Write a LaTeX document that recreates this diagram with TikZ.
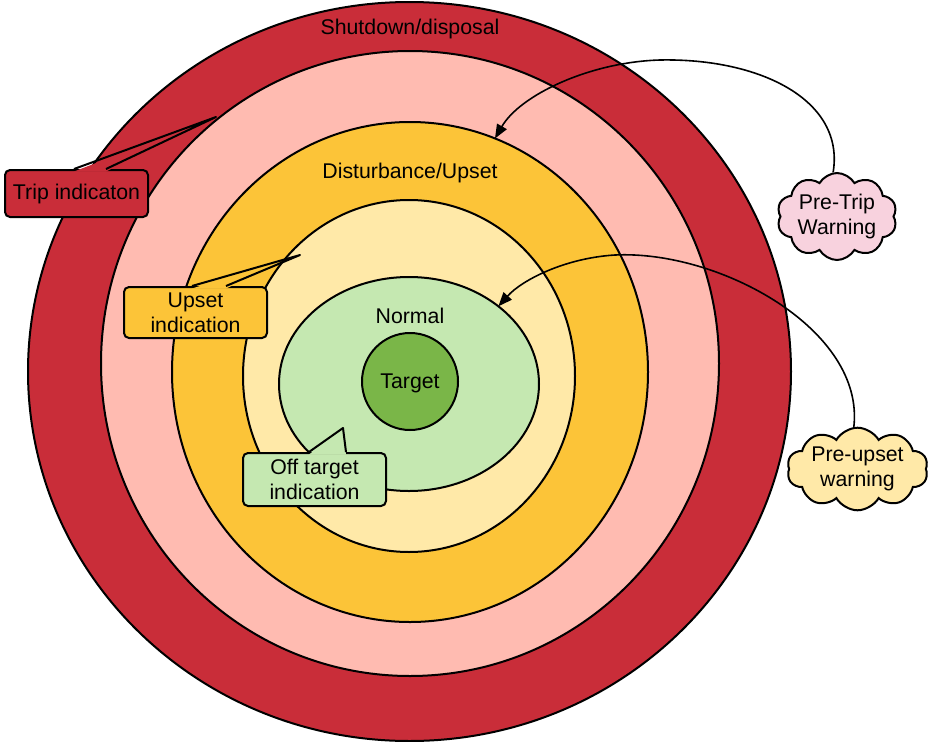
\documentclass[tikz,border=0pt]{standalone}
\usepackage{fontspec}
\setmainfont{Liberation Sans}
\usetikzlibrary{shapes.geometric,shapes.symbols,arrows.meta,calc}

\definecolor{shutred}{HTML}{C92D39}
\definecolor{trippink}{HTML}{FFBBB1}
\definecolor{upsetorange}{HTML}{FCC438}
\definecolor{paleyellow}{HTML}{FFE9A8}
\definecolor{palegreen}{HTML}{C5E8B1}
\definecolor{targetgreen}{HTML}{7AB648}
\definecolor{cloudpink}{HTML}{F8D2DE}

\begin{document}
\begin{tikzpicture}[x=1pt,y=-1pt,
  txt/.style={font=\fontsize{21.3}{25}\selectfont, text=black},
  ring/.style={ellipse, draw=black, line width=2pt, inner sep=0pt, outer sep=0pt},
  lbl/.style={txt, inner sep=0pt},
  tagbox/.style={txt, draw=black, line width=2pt, rounded corners=5pt, align=center,
    minimum width=143pt, inner sep=0pt},
  puff/.style={txt, cloud, cloud puffs=10, cloud puff arc=120, cloud ignores aspect,
    draw=black, line width=2pt, align=center, inner sep=0pt},
  pointer/.style={draw=black, line width=2pt, line join=round},
  link/.style={draw=black, line width=1.6pt, -{Triangle[length=14pt,width=11pt]}}
]
\useasboundingbox (0,0) rectangle (930,742);

% concentric zones, outermost first
\node[ring, fill=shutred, minimum width=763pt, minimum height=739pt] (shutdown) at (409.5,371.5) {};
\node[ring, fill=trippink, minimum width=618pt, minimum height=625pt] (tripzone) at (410,363.5) {};
\node[ring, fill=upsetorange, minimum width=476pt, minimum height=500pt] (upset) at (410,372) {};
\node[ring, fill=paleyellow, minimum width=332pt, minimum height=352pt] (preupset) at (409,376) {};
\node[ring, fill=palegreen, minimum width=260pt, minimum height=214pt] (normal) at (409,384) {};
\node[ring, fill=targetgreen, minimum width=96pt, minimum height=97pt] (target) at (410,381.5) {};

% zone labels
\node[lbl] (lshut) at (410,29) {Shutdown/disposal};
\node[lbl] (lupset) at (410,173) {Disturbance/Upset};
\node[lbl] (lnormal) at (410,316) {Normal};
\node[lbl] (ltarget) at (410,383) {Target};

% indication callouts
\node[tagbox, fill=shutred, minimum height=47pt] (trip) at (76.5,193.5) {Trip indicaton};
\coordinate (triptip) at (216,117);
\fill[shutred] ($(trip.north west)+(70,2.5)$) -- (triptip) -- ($(trip.north west)+(102,2.5)$) -- cycle;
\draw[pointer] ($(trip.north west)+(70,0)$) -- (triptip) -- ($(trip.north west)+(102,0)$);

\node[tagbox, fill=upsetorange, minimum height=51pt] (upsetind) at (195.5,312.5) {Upset\\indication};
\coordinate (upsettip) at (300,255);
\fill[upsetorange] ($(upsetind.north west)+(69,2.5)$) -- (upsettip) -- ($(upsetind.north west)+(103,2.5)$) -- cycle;
\draw[pointer] ($(upsetind.north west)+(69,0)$) -- (upsettip) -- ($(upsetind.north west)+(103,0)$);

\node[tagbox, fill=palegreen, minimum height=53pt] (offtarget) at (314.5,479.5) {Off target\\indication};
\coordinate (offtip) at (343,428);
\fill[palegreen] ($(offtarget.north west)+(67,2.5)$) -- (offtip) -- ($(offtarget.north west)+(104,2.5)$) -- cycle;
\draw[pointer] ($(offtarget.north west)+(67,0)$) -- (offtip) -- ($(offtarget.north west)+(104,0)$);

% warning clouds
\node[puff, fill=cloudpink, minimum width=120pt, minimum height=87pt] (pretrip) at (837,216.5) {Pre-Trip\\Warning};
\node[puff, fill=paleyellow, minimum width=141pt, minimum height=72pt] (preupsetw) at (857.5,469) {Pre-upset\\warning};

% warning connectors
\draw[link] (pretrip.95) .. controls (845,100) and (760,58) .. (660,60)
  .. controls (590,62) and (520,95) .. (upset.70.7);
\draw[link] (preupsetw.95) .. controls (865,330) and (720,250) .. (615,255)
  .. controls (565,258) and (522,280) .. (normal.41.3);
\end{tikzpicture}
\end{document}
